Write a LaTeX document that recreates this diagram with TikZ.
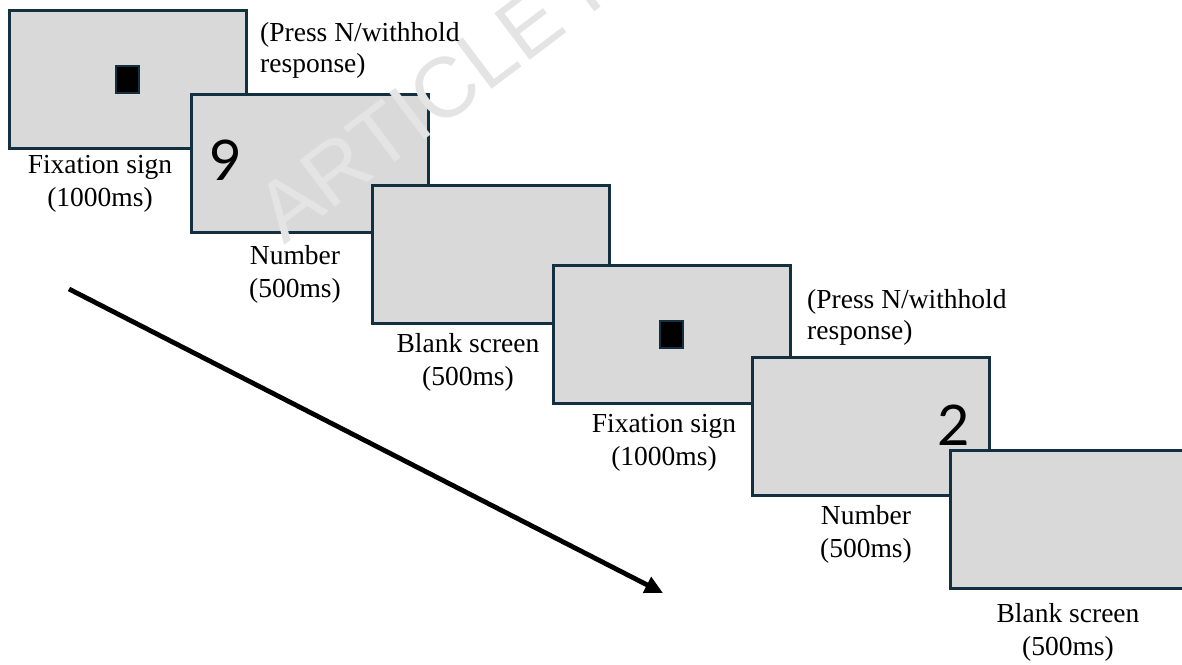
\documentclass[tikz,border=0pt]{standalone}
\usepackage{fontspec}
\setmainfont{Liberation Serif}
\newfontfamily\digitfont{Lato}
\newfontfamily\wmfont{Liberation Sans}
\usetikzlibrary{arrows.meta}
\definecolor{scrfill}{HTML}{D9D9D9}
\definecolor{scrline}{HTML}{12303F}
\definecolor{wmgray}{HTML}{E4E4E4}
\begin{document}
\begin{tikzpicture}[x=1pt,y=-1pt,
  screen/.style={draw=scrline, fill=scrfill, line width=3pt, minimum width=237pt, minimum height=138pt, inner sep=0pt, outer sep=0pt},
  fixsq/.style={draw=scrline, fill=black, line width=2pt, minimum width=23pt, minimum height=27pt, inner sep=0pt},
  lbl/.style={font=\fontsize{27.5}{32.5}\selectfont, align=center, anchor=base, inner sep=0pt},
  note/.style={font=\fontsize{27.5}{30.5}\selectfont, align=left, anchor=base west, inner sep=0pt},
  digit/.style={font=\digitfont\fontsize{56}{56}\selectfont, anchor=base, inner sep=0pt},
  timeline/.style={line width=4.8pt, -{Triangle[length=18pt,width=17pt]}},
  wmark/.style={font=\wmfont\fontsize{85}{85}\selectfont, text=wmgray, anchor=base west, inner sep=0pt, rotate=37}
]
\useasboundingbox (0,0) rectangle (1182,664);
\begin{scope}
\clip (0,0) rectangle (1182,664);
% screens
\node[screen] (s1) at (127.5,79) {};
\node[fixsq] (q1) at (s1.center) {};
\node[screen] (s2) at (309.5,163) {};
\node[digit] (d9) at (226,180) {9};
\node[screen] (s3) at (490.5,254) {};
\node[screen] (s4) at (671.5,334) {};
\node[fixsq] (q4) at (s4.center) {};
\node[screen] (s5) at (870.5,426.5) {};
\node[digit] (d2) at (954,445) {2};
\node[screen] (s6) at (1068.5,519) {};
% watermark
\node[wmark] (wm) at (284,246) {ARTICLE IN PRESS};
% labels (anchored at the baseline of the last line)
\node[lbl] (l1) at (100,206) {Fixation sign\\(1000ms)};
\node[note] (p1) at (260,72) {(Press N/withhold\\response)};
\node[lbl] (l2) at (295,297) {Number\\(500ms)};
\node[lbl] (l3) at (468,385) {Blank screen\\(500ms)};
\node[lbl] (l4) at (664,465) {Fixation sign\\(1000ms)};
\node[note] (p2) at (807,339) {(Press N/withhold\\response)};
\node[lbl] (l5) at (866,557) {Number\\(500ms)};
\node[lbl] (l6) at (1068,655) {Blank screen\\(500ms)};
% time arrow
\coordinate (tstart) at (69,289);
\coordinate (tend) at (663,593);
\draw[timeline] (tstart) -- (tend);
\end{scope}
\end{tikzpicture}
\end{document}
